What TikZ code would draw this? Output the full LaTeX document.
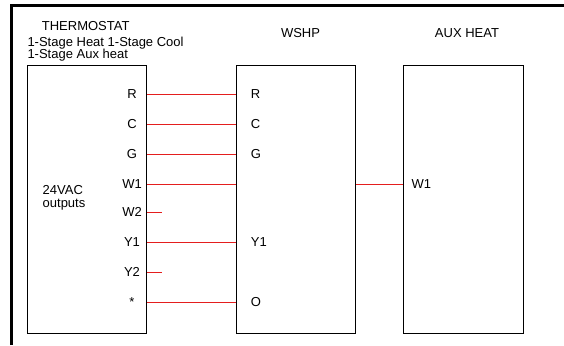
\documentclass[tikz,border=0pt]{standalone}
\usepackage{fontspec}
\setmainfont{Liberation Sans}
\usetikzlibrary{positioning}
\definecolor{wirered}{RGB}{228,30,30}

\begin{document}
\begin{tikzpicture}[x=1pt, y=-1pt,
    unit/.style={draw, line width=0.8pt, inner sep=0pt, minimum width=119.5pt, minimum height=268pt, anchor=north west},
    lbl/.style={inner sep=0pt, font=\fontsize{13}{15}\selectfont},
    wire/.style={wirered, line width=1pt}]
    \useasboundingbox (0,0) rectangle (564,345);

    % page frame
    \draw[line width=2.7pt] (11.3,345) -- (11.3,5.3) -- (564,5.3);

    % the three units
    \node[unit] (tstat) at (26.7,65) {};
    \node[unit] (wshp) at (235.7,65) {};
    \node[unit] (aux) at (403.3,65) {};

    % terminal rows
    \foreach \i/\y in {1/94.5, 2/124.5, 3/154.5, 4/184.5, 5/212.5, 6/242.5, 7/272.5, 8/302.5} {
        \coordinate (y\i) at (0,\y);
        \coordinate (t\i) at (tstat.east |- y\i);
        \coordinate (w\i) at (wshp.west |- y\i);
    }
    \coordinate (a4) at (aux.west |- y4);
    \coordinate (wo4) at (wshp.east |- y4);

    % wiring
    \foreach \i in {1,2,3,4,6,8} {
        \draw[wire] (t\i) -- (w\i);
    }
    \foreach \i in {5,7} {
        \coordinate (s\i) at ([xshift=15pt]t\i);
        \draw[wire] (t\i) -- (s\i);
    }
    \draw[wire] (wo4) -- (a4);

    % titles
    \node[lbl, anchor=base west] (ttitle) at (41.7,30.7) {THERMOSTAT};
    \node[lbl, anchor=base west] (tsub1) at (27.3,46.7) {1-Stage Heat 1-Stage Cool};
    \node[lbl, anchor=base west] (tsub2) at (27.3,58.3) {1-Stage Aux heat};
    \node[lbl, anchor=base] (wtitle) at (300.5,37.3) {WSHP};
    \node[lbl, anchor=base] (atitle) at (467,37.3) {AUX HEAT};
    \node[lbl, anchor=base west] (vac) at (42.5,194.3) {24VAC};
    \node[lbl, anchor=base west] (outs) at (42.5,207.3) {outputs};

    % terminal labels
    \foreach \i/\t in {1/R, 2/C, 3/G, 4/W1, 5/W2, 6/Y1, 7/Y2, 8/*} {
        \node[lbl, anchor=base] (tl\i) at ([xshift=-15pt, yshift=-3.8pt]t\i) {\t};
    }
    \foreach \i/\t in {1/R, 2/C, 3/G, 6/Y1, 8/O} {
        \node[lbl, anchor=base west] (wl\i) at ([xshift=15pt, yshift=-3.8pt]w\i) {\t};
    }
    \node[lbl, anchor=base west] (al4) at ([xshift=8pt, yshift=-3.8pt]a4) {W1};
\end{tikzpicture}
\end{document}
